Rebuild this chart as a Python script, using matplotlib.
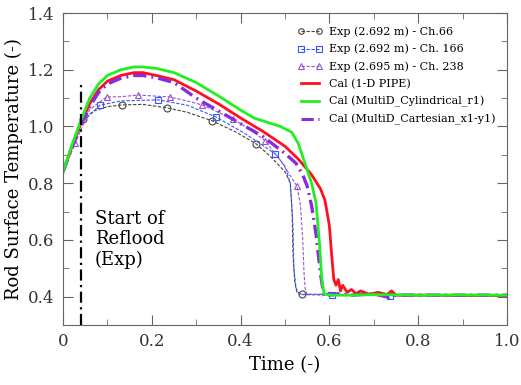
import numpy as np
import matplotlib
matplotlib.use('Agg')
import matplotlib.pyplot as plt
from matplotlib.lines import Line2D
from matplotlib.ticker import MultipleLocator

plt.rcParams['font.family'] = ['DejaVu Serif']

# 实验数据 (Exp)
t_ch66 = [0, 0.02, 0.045, 0.07, 0.1, 0.133, 0.18, 0.234, 0.28, 0.336, 0.39, 0.435,
          0.47, 0.5, 0.512, 0.516, 0.518, 0.522, 0.527, 0.538, 0.6, 0.7, 0.8, 0.9, 1.0]
v_ch66 = [0.84, 0.93, 1.027, 1.055, 1.07, 1.076, 1.078, 1.066, 1.05, 1.02, 0.98, 0.939,
          0.89, 0.84, 0.80, 0.70, 0.55, 0.45, 0.415, 0.408, 0.408, 0.407, 0.407, 0.407, 0.407]
mk_ch66 = [2, 5, 7, 9, 11, 19]

t_ch166 = [0, 0.02, 0.04, 0.083, 0.13, 0.214, 0.28, 0.344, 0.41, 0.478, 0.5, 0.512,
           0.518, 0.52, 0.525, 0.532, 0.54, 0.605, 0.737, 1.0]
v_ch166 = [0.84, 0.93, 1.01, 1.075, 1.09, 1.094, 1.075, 1.034, 0.975, 0.904, 0.86, 0.80,
           0.65, 0.5, 0.43, 0.41, 0.407, 0.405, 0.403, 0.405]
mk_ch166 = [3, 5, 7, 9, 17, 18]

t_ch238 = [0, 0.027, 0.06, 0.098, 0.13, 0.169, 0.2, 0.241, 0.28, 0.313, 0.35, 0.383,
           0.42, 0.455, 0.49, 0.527, 0.535, 0.54, 0.543, 0.546, 0.55, 0.6, 1.0]
v_ch238 = [0.84, 0.94, 1.06, 1.104, 1.105, 1.111, 1.108, 1.104, 1.09, 1.076, 1.05, 1.027,
           0.99, 0.95, 0.88, 0.79, 0.72, 0.60, 0.48, 0.42, 0.408, 0.407, 0.407]
mk_ch238 = [1, 3, 5, 7, 9, 11, 13, 15]

# 计算结果 (Cal)
t_pipe = [0, 0.02, 0.04, 0.06, 0.08, 0.1, 0.13, 0.16, 0.18, 0.21, 0.25, 0.3, 0.35, 0.4,
          0.45, 0.5, 0.53, 0.56, 0.58, 0.59, 0.6, 0.605, 0.61, 0.615, 0.62, 0.625, 0.63,
          0.64, 0.65, 0.66, 0.67, 0.69, 0.71, 0.73, 0.74, 0.75, 0.8, 0.9, 1.0]
v_pipe = [0.84, 0.93, 1.01, 1.08, 1.13, 1.16, 1.18, 1.19, 1.19, 1.18, 1.165, 1.125, 1.08, 1.03,
          0.983, 0.93, 0.885, 0.83, 0.78, 0.74, 0.65, 0.55, 0.46, 0.44, 0.46, 0.42, 0.44,
          0.415, 0.425, 0.41, 0.42, 0.408, 0.415, 0.407, 0.42, 0.405, 0.405, 0.404, 0.404]

t_cyl = [0, 0.02, 0.04, 0.06, 0.08, 0.1, 0.13, 0.16, 0.18, 0.21, 0.25, 0.3, 0.35, 0.4,
         0.43, 0.49, 0.515, 0.53, 0.545, 0.56, 0.57, 0.578, 0.583, 0.588, 0.6, 0.65, 0.7,
         0.8, 0.9, 1.0]
v_cyl = [0.84, 0.935, 1.02, 1.1, 1.15, 1.18, 1.2, 1.21, 1.21, 1.205, 1.19, 1.155, 1.108, 1.058,
         1.03, 1.0, 0.98, 0.94, 0.87, 0.80, 0.73, 0.58, 0.46, 0.41, 0.405, 0.405, 0.407,
         0.405, 0.406, 0.405]

t_cart = [0, 0.02, 0.04, 0.06, 0.08, 0.1, 0.13, 0.16, 0.18, 0.21, 0.25, 0.3, 0.35, 0.4,
          0.45, 0.5, 0.525, 0.54, 0.55, 0.56, 0.57, 0.58, 0.587, 0.59, 0.595, 0.6, 0.62,
          0.65, 0.7, 0.735, 0.75, 0.85, 1.0]
v_cart = [0.84, 0.925, 1.005, 1.07, 1.12, 1.15, 1.17, 1.18, 1.18, 1.172, 1.155, 1.1, 1.055, 1.01,
          0.965, 0.905, 0.87, 0.83, 0.79, 0.72, 0.62, 0.48, 0.41, 0.41, 0.42, 0.405, 0.41,
          0.405, 0.41, 0.397, 0.405, 0.405, 0.405]

labels = ['Exp (2.692 m) - Ch.66', 'Exp (2.692 m) - Ch. 166', 'Exp (2.695 m) - Ch. 238',
          'Cal (1-D PIPE)', 'Cal (MultiD_Cylindrical_r1)', 'Cal (MultiD_Cartesian_x1-y1)']

fig = plt.figure(figsize=(5.21, 3.85), dpi=100)
ax = fig.add_axes([0.121, 0.156, 0.852, 0.81])

exp_dash = (0, (3, 1.5))
ax.plot(t_ch66, v_ch66, color='#444444', lw=0.8, ls=exp_dash,
        marker='o', ms=5, mfc='none', mew=0.8, markevery=mk_ch66)
ax.plot(t_ch166, v_ch166, color='#3355ff', lw=0.8, ls=exp_dash,
        marker='s', ms=5, mfc='none', mew=0.8, markevery=mk_ch166)
ax.plot(t_ch238, v_ch238, color='#9955cc', lw=0.8, ls=exp_dash,
        marker='^', ms=5, mfc='none', mew=0.8, markevery=mk_ch238)

cart_ls = (0, (4, 1.5, 0.6, 1.5))
ax.plot(t_pipe, v_pipe, color='#ff1020', lw=2.0)
ax.plot(t_cart, v_cart, color='#8a2be2', lw=2.4, ls=cart_ls)
ax.plot(t_cyl, v_cyl, color='#22ee22', lw=2.0)

# 再淹没开始
ax.plot([0.04, 0.04], [0.3, 1.15], color='black', lw=1.6, ls=(0, (5, 2, 1, 2)))
ax.text(0.072, 0.705, 'Start of\nReflood\n(Exp)', fontsize=13, va='top', ha='left',
        linespacing=1.15)

handles = [
    Line2D([0], [0], color='#444444', lw=0.8, ls=exp_dash, marker='o', ms=4, mfc='none', mew=0.8),
    Line2D([0], [0], color='#3355ff', lw=0.8, ls=exp_dash, marker='s', ms=4, mfc='none', mew=0.8),
    Line2D([0], [0], color='#9955cc', lw=0.8, ls=exp_dash, marker='^', ms=4, mfc='none', mew=0.8),
    Line2D([0], [0], color='#ff1020', lw=2.0),
    Line2D([0], [0], color='#22ee22', lw=2.0),
    Line2D([0], [0], color='#8a2be2', lw=2.2, ls=cart_ls),
]
ax.legend(handles, labels, loc='upper left', bbox_to_anchor=(0.515, 0.975), frameon=False,
          fontsize=8, numpoints=2, handlelength=2.3, handletextpad=0.6, labelspacing=0.62,
          borderpad=0)

ax.set_xlim(0, 1.0)
ax.set_ylim(0.3, 1.4)
ax.set_xticks([0, 0.2, 0.4, 0.6, 0.8, 1.0])
ax.set_xticklabels(['0', '0.2', '0.4', '0.6', '0.8', '1.0'])
ax.set_yticks([0.4, 0.6, 0.8, 1.0, 1.2, 1.4])
ax.set_yticklabels(['0.4', '0.6', '0.8', '1.0', '1.2', '1.4'])
ax.xaxis.set_minor_locator(MultipleLocator(0.1))
ax.yaxis.set_minor_locator(MultipleLocator(0.1))
ax.tick_params(which='both', direction='in', top=True, right=True, color='#666666',
               labelsize=12, labelcolor='#333333', pad=6)
ax.tick_params(which='major', length=7)
ax.tick_params(which='minor', length=4)
for s in ax.spines.values():
    s.set_color('#666666')

ax.set_xlabel('Time (-)', fontsize=13, labelpad=4)
ax.set_ylabel('Rod Surface Temperature (-)', fontsize=13, labelpad=4)

fig.savefig('out.png', dpi=100)
